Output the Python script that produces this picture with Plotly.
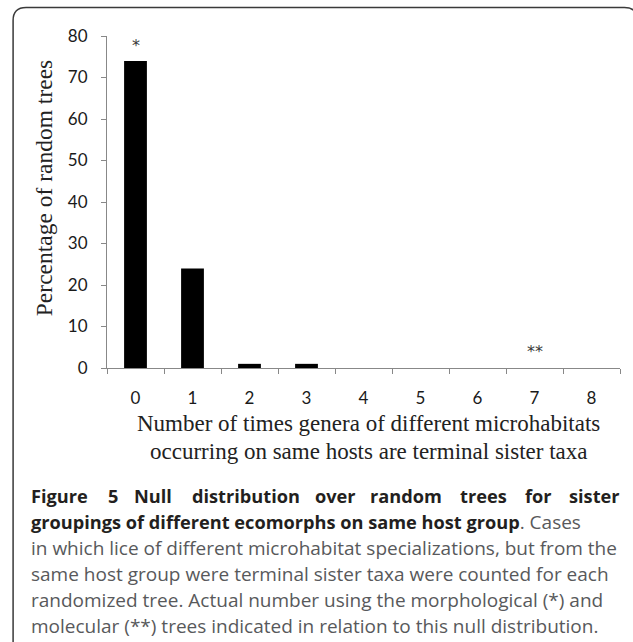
import plotly.graph_objects as go

# ---- data ----
categories = ["0", "1", "2", "3", "4", "5", "6", "7", "8"]
percent_trees = [74, 24, 1, 1, 0, 0, 0, 0, 0]
y_ticks = [0, 10, 20, 30, 40, 50, 60, 70, 80]
marker_labels = ["*", "**"]
marker_cats = ["0", "7"]
marker_vals = [77.8, 3.9]

W, H = 633, 642
PL, PR, PT, PB = 107, 620.5, 35.5, 368.3  # plot area in pixels


def px(x):
    return (x - PL) / (PR - PL)


def py(y):
    return (PB - y) / (PB - PT)


fig = go.Figure()
fig.add_trace(go.Bar(x=categories, y=percent_trees, width=0.4,
                     marker=dict(color="#000000", line=dict(width=0))))

annotations = []
for lab, c, v in zip(marker_labels, marker_cats, marker_vals):
    annotations.append(dict(x=c, y=v, xref="x", yref="y", text=lab, showarrow=False,
                            font=dict(family="DejaVu Sans", size=16, color="#3a3a3a")))

# y axis title
annotations.append(dict(x=px(44), y=py(188), xref="paper", yref="paper",
                        xanchor="center", yanchor="middle",
                        text="Percentage of random trees", textangle=-90, showarrow=False,
                        font=dict(family="Liberation Serif", size=23.5, color="#222222")))
# x axis title (two lines)
for txt, yy in [("Number of times genera of different microhabitats", 424),
                ("occurring on same hosts are terminal sister taxa", 452)]:
    annotations.append(dict(x=px(369), y=py(yy), xref="paper", yref="paper", text=txt,
                            showarrow=False, xanchor="center", yanchor="middle",
                            font=dict(family="Liberation Serif", size=23, color="#222222")))

# caption
cap_font = "Open Sans"
bold_size = 18.2
reg_size = 19.0
bold_col = "#231f20"
reg_col = "#58595b"
PADX = 2.3
# justified first line: word widths (px, rendered) and equal gaps between 31.7 and 621.7
line1_words = ["Figure", "5", "Null", "distribution", "over", "random", "trees", "for", "sister"]
line1_w = [62, 11, 43, 108, 40, 75, 50, 29, 52]
gap = (621.7 - 31.7 - sum(line1_w)) / (len(line1_w) - 1)
xx = 31.7
for w, ww in zip(line1_words, line1_w):
    annotations.append(dict(x=px(xx - PADX), y=py(497), xref="paper", yref="paper",
                            text="<b>%s</b>" % w,
                            showarrow=False, xanchor="left", yanchor="middle",
                            font=dict(family=cap_font, size=bold_size, color=bold_col)))
    xx += ww + gap
annotations.append(dict(x=px(31.7 - PADX), y=py(523), xref="paper", yref="paper",
                        text=("<b><span style='color:%s;font-size:%spx'>groupings of different "
                              "ecomorphs on same host group</span></b>. Cases") % (bold_col, bold_size),
                        showarrow=False, xanchor="left", yanchor="middle",
                        font=dict(family=cap_font, size=reg_size, color=reg_col)))
cap_lines = [
    ("in which lice of different microhabitat specializations, but from the", 549),
    ("same host group were terminal sister taxa were counted for each", 575),
    ("randomized tree. Actual number using the morphological (*) and", 601),
    ("molecular (**) trees indicated in relation to this null distribution.", 627),
]
for txt, yy in cap_lines:
    annotations.append(dict(x=px(31.7 - PADX), y=py(yy), xref="paper", yref="paper", text=txt,
                            showarrow=False, xanchor="left", yanchor="middle",
                            font=dict(family=cap_font, size=reg_size, color=reg_col)))

# frame (rounded rectangle, open beyond the canvas at the bottom/right)
r = 13
x0, y0, x1, y1 = 13, 7, 638, 660
path = "M %f,%f L %f,%f Q %f,%f %f,%f L %f,%f Q %f,%f %f,%f L %f,%f" % (
    px(x0), py(y1), px(x0), py(y0 + r), px(x0), py(y0), px(x0 + r), py(y0),
    px(x1 - r), py(y0), px(x1), py(y0), px(x1), py(y0 + r), px(x1), py(y1))
shapes = [dict(type="path", xref="paper", yref="paper", path=path,
               line=dict(color="#3a3a3a", width=1.5), layer="above")]

fig.update_layout(
    width=W, height=H,
    margin=dict(l=PL, r=W - PR, t=PT, b=H - PB, pad=0),
    plot_bgcolor="white", paper_bgcolor="white",
    showlegend=False,
    annotations=annotations,
    shapes=shapes,
    xaxis=dict(type="category", range=[-0.5, 8.5], tickson="boundaries", ticks="outside",
               ticklen=5, tickcolor="#888888", showline=True, linecolor="#888888", linewidth=1.2,
               showgrid=False, zeroline=False, ticklabelstandoff=14,
               tickfont=dict(family="Lato", size=17, color="#1a1a1a")),
    yaxis=dict(range=[0, 80], tickvals=y_ticks, ticks="outside", ticklen=5,
               tickcolor="#888888", showline=True, linecolor="#888888", linewidth=1.2,
               showgrid=False, zeroline=False, ticklabelstandoff=10,
               tickfont=dict(family="Lato", size=17, color="#1a1a1a")),
)

fig.write_html("out.html", config={"displayModeBar": False},
               post_script="document.body.style.margin='0';document.body.style.overflow='hidden';")
